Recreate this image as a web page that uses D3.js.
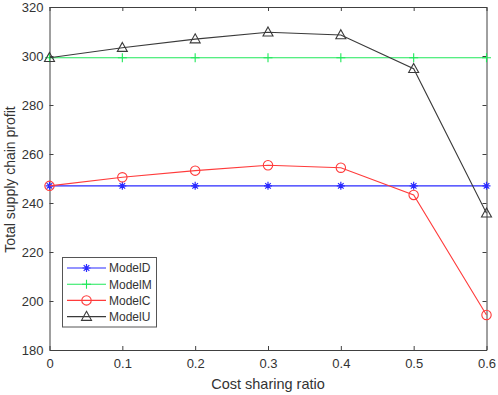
<!DOCTYPE html>
<html>
<head>
<meta charset="utf-8">
<script src="https://cdn.jsdelivr.net/npm/d3@7"></script>
<style>
  body { margin: 0; background: #fff; }
  text { font-family: "Liberation Sans", Arial, sans-serif; fill: #333; }
</style>
</head>
<body>
<div id="vis"></div>
<script>
// Datos
const ratios = [0, 0.1, 0.2, 0.3, 0.4, 0.5, 0.6];
const modelD = [247, 247, 247, 247, 247, 247, 247];
const modelM = [299.3, 299.3, 299.3, 299.3, 299.3, 299.3, 299.3];
const modelC = [247, 250.5, 253.2, 255.4, 254.4, 243.3, 194.3];
const modelU = [299.3, 303.4, 306.9, 309.7, 308.6, 294.8, 235.8];
const yTicks = [180, 200, 220, 240, 260, 280, 300, 320];
const xTicks = [0, 0.1, 0.2, 0.3, 0.4, 0.5, 0.6];

const series = [
  { name: "ModelD", values: modelD, color: "#2a2aff", marker: "star" },
  { name: "ModelM", values: modelM, color: "#1fe85a", marker: "plus" },
  { name: "ModelC", values: modelC, color: "#ff3b3b", marker: "circle" },
  { name: "ModelU", values: modelU, color: "#3a3a3a", marker: "triangle" }
];

const WIDTH = 498;
const HEIGHT = 395;
const margins = { left: 49.5, right: 11.5, top: 7, bottom: 45 };

const SVG = d3.select("#vis").append("svg")
  .attr("width", WIDTH)
  .attr("height", HEIGHT);

const x = d3.scaleLinear().domain([0, 0.6]).range([margins.left, WIDTH - margins.right]);
const y = d3.scaleLinear().domain([180, 320]).range([HEIGHT - margins.bottom, margins.top]);

const axisColor = "#404040";

// Ejes con ticks hacia adentro
const gx = SVG.append("g")
  .attr("transform", `translate(0,${y(180)})`)
  .call(d3.axisBottom(x).tickValues(xTicks).tickSizeInner(-4).tickSizeOuter(0).tickPadding(9)
    .tickFormat(d => d === 0 ? "0" : d3.format(".1f")(d)));
const gy = SVG.append("g")
  .attr("transform", `translate(${x(0)},0)`)
  .call(d3.axisLeft(y).tickValues(yTicks).tickSizeInner(-4).tickSizeOuter(0).tickPadding(6));
const gt = SVG.append("g")
  .attr("transform", `translate(0,${y(320)})`)
  .call(d3.axisTop(x).tickValues(xTicks).tickSizeInner(-4).tickSizeOuter(0).tickFormat(""));
const gr = SVG.append("g")
  .attr("transform", `translate(${x(0.6)},0)`)
  .call(d3.axisRight(y).tickValues(yTicks).tickSizeInner(-4).tickSizeOuter(0).tickFormat(""));

[gx, gy, gt, gr].forEach(g => {
  g.select(".domain").attr("stroke", axisColor);
  g.selectAll(".tick line").attr("stroke", axisColor);
  g.selectAll("text").attr("font-size", 13).attr("fill", "#333")
    .attr("font-family", "'Liberation Sans', Arial, sans-serif");
});

// Títulos de ejes
SVG.append("text")
  .attr("x", (x(0) + x(0.6)) / 2)
  .attr("y", 389)
  .attr("text-anchor", "middle")
  .attr("font-size", 14.5)
  .text("Cost sharing ratio");

SVG.append("text")
  .attr("transform", `translate(15,${(y(180) + y(320)) / 2 + 1}) rotate(-90)`)
  .attr("text-anchor", "middle")
  .attr("font-size", 14)
  .text("Total supply chain profit");

// Marcadores
function drawMarker(g, type, cx, cy, color) {
  if (type === "star") {
    const s = 4;
    g.append("path")
      .attr("d", `M${cx - s},${cy}L${cx + s},${cy}M${cx},${cy - s}L${cx},${cy + s}` +
        `M${cx - s * 0.7},${cy - s * 0.7}L${cx + s * 0.7},${cy + s * 0.7}` +
        `M${cx - s * 0.7},${cy + s * 0.7}L${cx + s * 0.7},${cy - s * 0.7}`)
      .attr("stroke", color).attr("stroke-width", 1.2).attr("fill", "none");
  } else if (type === "plus") {
    const s = 4.5;
    g.append("path")
      .attr("d", `M${cx - s},${cy}L${cx + s},${cy}M${cx},${cy - s}L${cx},${cy + s}`)
      .attr("stroke", color).attr("stroke-width", 1.1).attr("fill", "none");
  } else if (type === "circle") {
    g.append("circle")
      .attr("cx", cx).attr("cy", cy).attr("r", 4.7)
      .attr("stroke", color).attr("stroke-width", 1.1).attr("fill", "none");
  } else {
    const s = 5;
    g.append("path")
      .attr("d", `M${cx},${cy - s * 1.05}L${cx + s},${cy + s * 0.75}L${cx - s},${cy + s * 0.75}Z`)
      .attr("stroke", color).attr("stroke-width", 1.1).attr("fill", "none");
  }
}

const line = d3.line()
  .x((d, i) => x(ratios[i]))
  .y(d => y(d));

series.forEach(s => {
  const g = SVG.append("g");
  g.append("path")
    .attr("d", line(s.values))
    .attr("fill", "none")
    .attr("stroke", s.color)
    .attr("stroke-width", 1.1);
  s.values.forEach((v, i) => drawMarker(g, s.marker, x(ratios[i]), y(v), s.color));
});

// Leyenda
const legend = SVG.append("g");
legend.append("rect")
  .attr("x", 62.5).attr("y", 257.5)
  .attr("width", 94).attr("height", 69.5)
  .attr("fill", "#fff")
  .attr("stroke", "#555")
  .attr("stroke-width", 1);

series.forEach((s, i) => {
  const ly = 268 + i * 16.2;
  legend.append("line")
    .attr("x1", 67).attr("x2", 106)
    .attr("y1", ly).attr("y2", ly)
    .attr("stroke", s.color).attr("stroke-width", 1.1);
  drawMarker(legend, s.marker, 86.5, ly, s.color);
  legend.append("text")
    .attr("x", 109).attr("y", ly + 4.3)
    .attr("font-size", 12)
    .text(s.name);
});
</script>
</body>
</html>
